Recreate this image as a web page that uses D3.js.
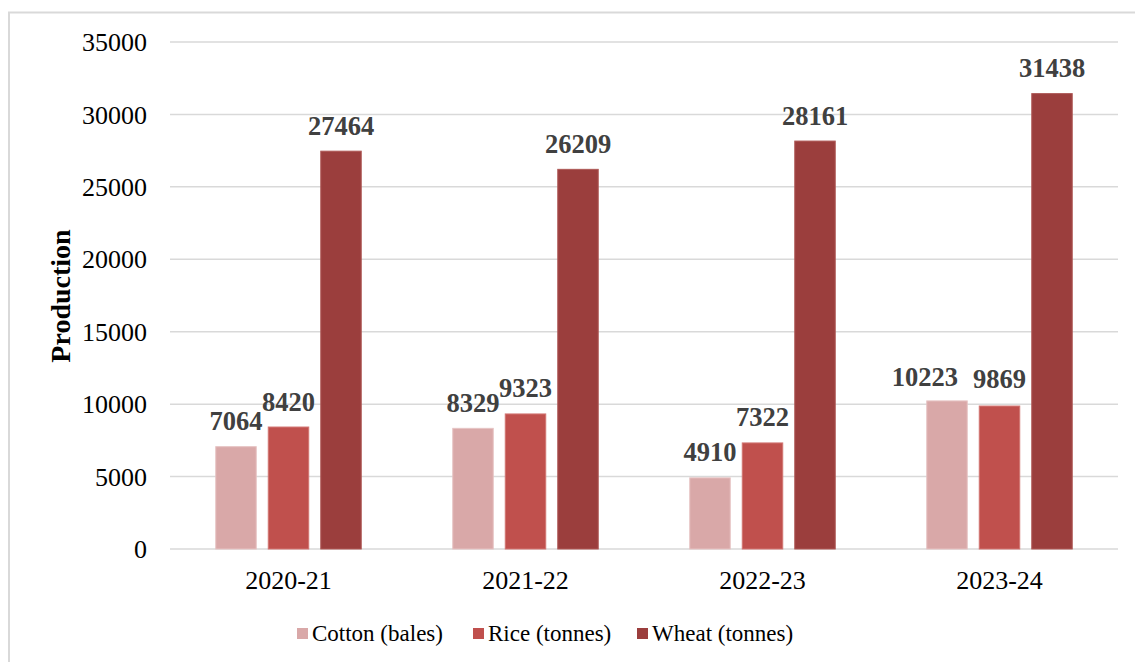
<!DOCTYPE html>
<html>
<head>
<meta charset="utf-8">
<script src="https://cdn.jsdelivr.net/npm/d3@7"></script>
<style>
  html, body { margin: 0; padding: 0; background: #ffffff; }
  svg { display: block; }
  text { font-family: "Liberation Serif", "Times New Roman", serif; }
</style>
</head>
<body>
<svg id="chart" width="1135" height="662"></svg>
<script>
// Agricultural production by season
const seasons = ["2020-21", "2021-22", "2022-23", "2023-24"];
const seriesNames = ["Cotton (bales)", "Rice (tonnes)", "Wheat (tonnes)"];
const cotton = [7064, 8329, 4910, 10223];
const rice = [8420, 9323, 7322, 9869];
const wheat = [27464, 26209, 28161, 31438];
const yTicks = [0, 5000, 10000, 15000, 20000, 25000, 30000, 35000];

const seriesValues = [cotton, rice, wheat];
const colors = ["#D9A8A8", "#C0504D", "#9B3E3D"];
const edgeColors = ["#E6C3C3", "#D27572", "#AE5957"];

// Small label shifts where neighbouring labels would collide
const labelShift = { "0-3": [-22, 2], "1-3": [0, -2] };

const svg = d3.select("#chart");

// outer chart frame
svg.append("rect")
  .attr("x", 9).attr("y", 12.5)
  .attr("width", 1200).attr("height", 700)
  .attr("fill", "none")
  .attr("stroke", "#d9d9d9")
  .attr("stroke-width", 2);

const plot = { left: 170, right: 1118, top: 42, bottom: 549 };

const y = d3.scaleLinear().domain([0, 35000]).range([plot.bottom, plot.top]);
const x0 = d3.scaleBand().domain(seasons).range([plot.left, plot.right]).padding(0);
const x1 = d3.scaleBand().domain(seriesNames).range([0, x0.bandwidth()])
  .paddingInner(0.21).paddingOuter(0.862);

// gridlines
svg.append("g").selectAll("line").data(yTicks).join("line")
  .attr("x1", plot.left).attr("x2", plot.right)
  .attr("y1", d => y(d)).attr("y2", d => y(d))
  .attr("stroke", "#d9d9d9").attr("stroke-width", 1.5);

// y axis labels
const yAxis = d3.axisLeft(y).tickValues(yTicks).tickSize(0).tickPadding(0)
  .tickFormat(d3.format("d"));
const yg = svg.append("g").attr("transform", `translate(147,0)`).call(yAxis);
yg.select(".domain").remove();
yg.selectAll("text")
  .attr("font-family", "Liberation Serif, serif")
  .attr("font-size", 26).attr("fill", "#000")
  .attr("dy", "0.33em");

// x axis labels
const xAxis = d3.axisBottom(x0).tickSize(0).tickPadding(0);
const xg = svg.append("g").attr("transform", `translate(0,589)`).call(xAxis);
xg.select(".domain").remove();
xg.selectAll("text")
  .attr("font-family", "Liberation Serif, serif")
  .attr("font-size", 26).attr("fill", "#000")
  .attr("dy", 0).attr("y", 0);

// bars
const groups = svg.append("g").selectAll("g").data(seasons).join("g")
  .attr("transform", d => `translate(${x0(d)},0)`);

groups.each(function(season, si) {
  const g = d3.select(this);
  seriesNames.forEach((name, k) => {
    const v = seriesValues[k][si];
    g.append("rect")
      .attr("x", x1(name) + 0.5)
      .attr("y", y(v))
      .attr("width", x1.bandwidth() - 1)
      .attr("height", y(0) - y(v))
      .attr("fill", colors[k])
      .attr("stroke", edgeColors[k])
      .attr("stroke-width", 1);
  });
});

// value labels
groups.each(function(season, si) {
  const g = d3.select(this);
  seriesNames.forEach((name, k) => {
    const v = seriesValues[k][si];
    const s = labelShift[`${k}-${si}`] || [0, 0];
    g.append("text")
      .attr("x", x1(name) + x1.bandwidth() / 2 + s[0])
      .attr("y", y(v) - 16.5 + s[1])
      .attr("text-anchor", "middle")
      .attr("font-size", 26.5)
      .attr("font-weight", "bold")
      .attr("fill", "#404040")
      .text(v);
  });
});

// y axis title
svg.append("text")
  .attr("transform", "translate(70,296) rotate(-90)")
  .attr("text-anchor", "middle")
  .attr("font-size", 28)
  .attr("font-weight", "bold")
  .attr("fill", "#000")
  .text("Production");

// legend
const legendX = [297, 473, 637];
const legend = svg.append("g").selectAll("g").data(seriesNames).join("g")
  .attr("transform", (d, i) => `translate(${legendX[i]},0)`);
legend.append("rect")
  .attr("x", 0).attr("y", 628)
  .attr("width", 11).attr("height", 11)
  .attr("fill", (d, i) => colors[i]);
legend.append("text")
  .attr("x", 15).attr("y", 641)
  .attr("font-size", 23)
  .attr("fill", "#000")
  .text(d => d);
</script>
</body>
</html>
